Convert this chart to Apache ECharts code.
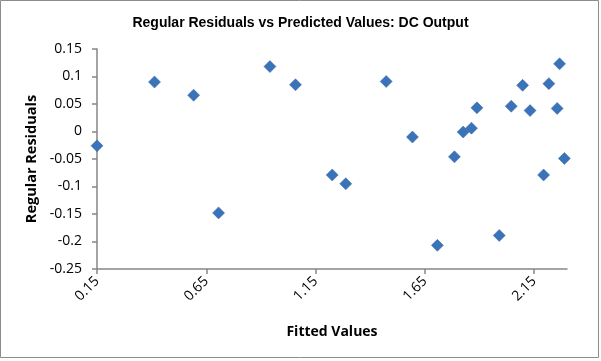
<!DOCTYPE html>
<html>
<head>
<meta charset="utf-8">
<script src="https://cdn.jsdelivr.net/npm/echarts@6/dist/echarts.min.js"></script>
<style>html,body{margin:0;padding:0;background:#fff}#c{width:601px;height:361px}</style>
</head>
<body>
<div id="c"></div>
<script>
var fittedValues = [0.150, 0.413, 0.592, 0.706, 0.941, 1.058, 1.226, 1.288, 1.473, 1.593, 1.707, 1.785, 1.825, 1.863, 1.888, 1.990, 2.045, 2.097, 2.131, 2.193, 2.217, 2.255, 2.266, 2.288, 2.301];
var residuals = [-0.026, 0.090, 0.066, -0.148, 0.118, 0.085, -0.079, -0.095, 0.091, -0.010, -0.207, -0.046, -0.001, 0.006, 0.043, -0.189, 0.046, 0.084, 0.038, -0.079, 0.087, 0.042, 0.123, -0.049, 0.011];
var xTickLabels = [0.15, 0.65, 1.15, 1.65, 2.15];
var yTickLabels = [-0.25, -0.2, -0.15, -0.1, -0.05, 0, 0.05, 0.1, 0.15];

var points = fittedValues.map(function (x, i) { return [x, residuals[i]]; });
var axisColor = '#868686';
var chart = echarts.init(document.getElementById('c'), null, {renderer: 'canvas'});
chart.setOption({
  animation: false,
  backgroundColor: '#ffffff',
  title: {
    text: 'Regular Residuals vs Predicted Values: DC Output',
    left: 'center', top: 11,
    textStyle: {fontFamily: 'Liberation Sans, Arial, sans-serif', fontSize: 14, fontWeight: 'bold', color: '#000'}
  },
  graphic: [{
    type: 'rect', shape: {x: 0.5, y: 0.5, width: 598, height: 357},
    style: {fill: 'none', stroke: '#8c8c8c', lineWidth: 1}, silent: true
  }],
  grid: {left: 97, right: 34, top: 49, bottom: 92},
  xAxis: {
    type: 'value', min: 0.15, max: 2.30,
    name: 'Fitted Values', nameLocation: 'middle', nameGap: 56,
    nameTextStyle: {fontFamily: 'Open Sans, sans-serif', fontSize: 14, fontWeight: 'bold', color: '#000'},
    axisLine: {show: true, onZero: false, lineStyle: {color: axisColor, width: 1.5}},
    axisTick: {show: true, length: 5, customValues: xTickLabels, lineStyle: {color: axisColor, width: 1.5}},
    axisLabel: {customValues: xTickLabels, rotate: 45, margin: 10,
      fontFamily: 'Open Sans, sans-serif', fontSize: 14, color: '#000',
      formatter: function (v) { return v.toFixed(2); }},
    splitLine: {show: false}
  },
  yAxis: {
    type: 'value', min: -0.25, max: 0.15, interval: 0.05,
    name: 'Regular Residuals', nameLocation: 'middle', nameGap: 56, nameRotate: 90,
    nameTextStyle: {fontFamily: 'Open Sans, sans-serif', fontSize: 14.5, fontWeight: 'bold', color: '#000'},
    axisLine: {show: true, onZero: false, lineStyle: {color: axisColor, width: 1.5}},
    axisTick: {show: true, length: 5, lineStyle: {color: axisColor, width: 1.5}},
    axisLabel: {margin: 15, fontFamily: 'Open Sans, sans-serif', fontSize: 14, color: '#000',
      formatter: function (v) { return String(Math.round(v * 100) / 100); }},
    splitLine: {show: false}
  },
  series: [{
    type: 'scatter',
    data: points,
    symbol: 'diamond',
    symbolSize: 12,
    itemStyle: {color: '#3b73b9', borderColor: '#3568a8', borderWidth: 0.5, opacity: 1}
  }]
});
</script>
</body>
</html>
